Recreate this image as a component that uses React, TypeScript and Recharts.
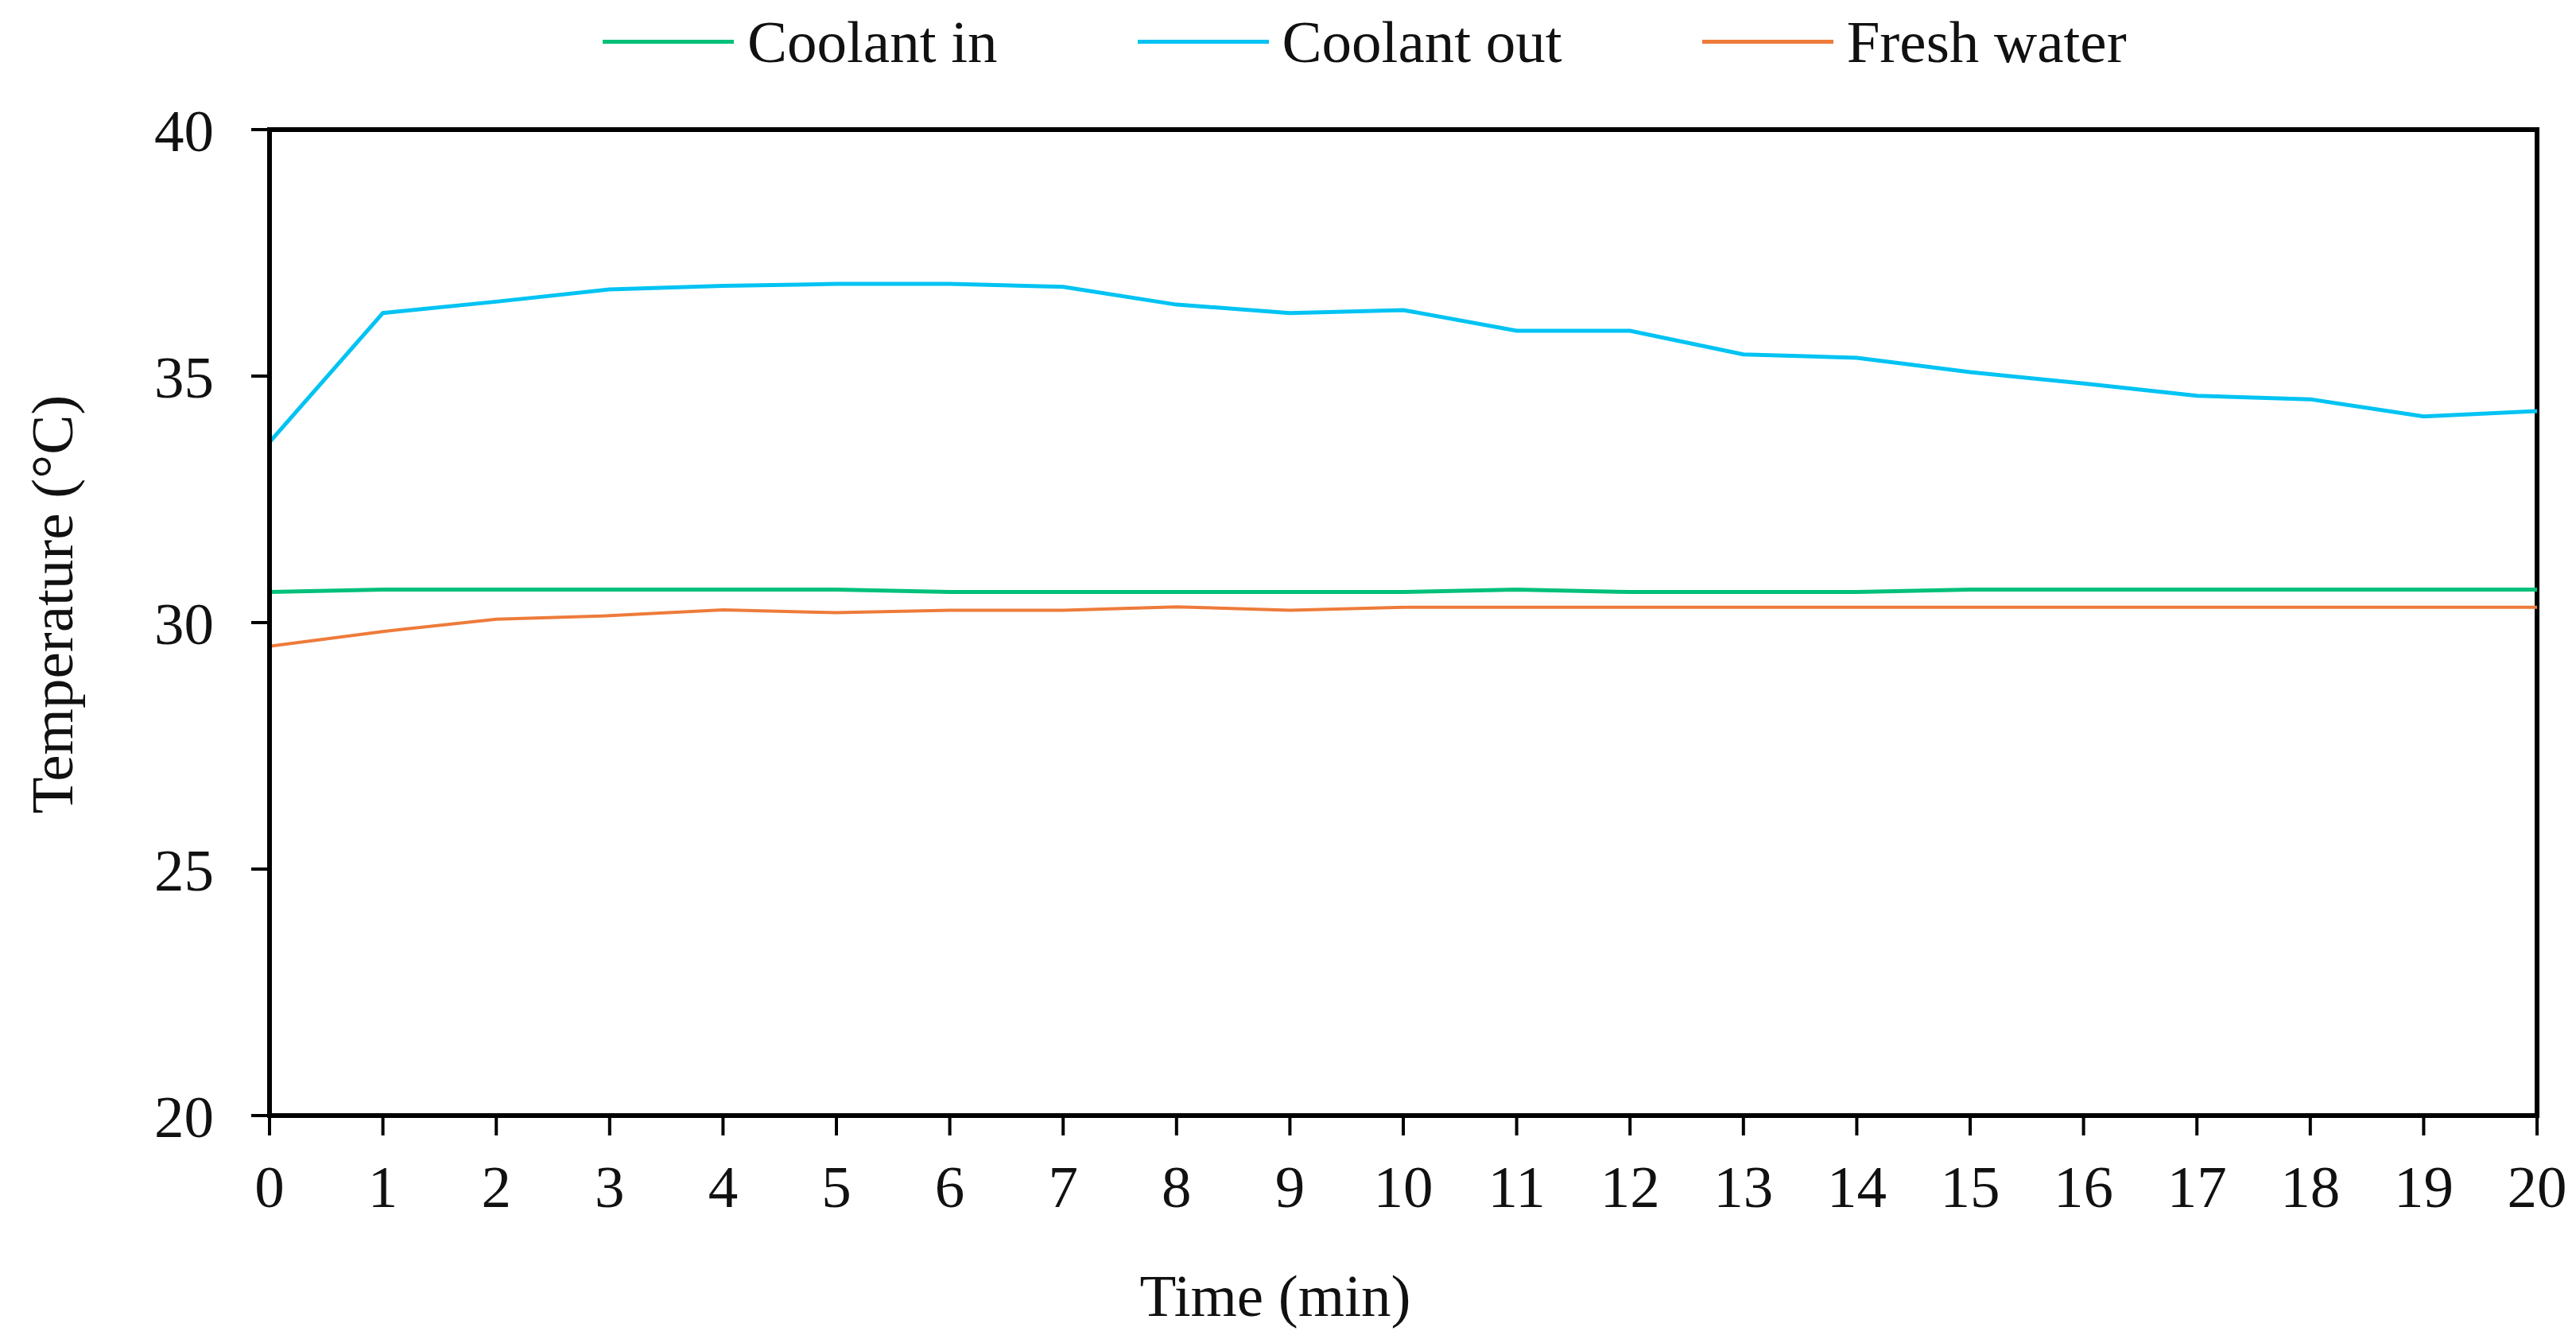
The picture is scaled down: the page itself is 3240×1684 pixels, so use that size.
import React from "react";
import { LineChart, Line, XAxis, YAxis, Legend, ReferenceArea, Label } from "recharts";

const time = [0, 1, 2, 3, 4, 5, 6, 7, 8, 9, 10, 11, 12, 13, 14, 15, 16, 17, 18, 19, 20];
const coolantIn = [30.62, 30.67, 30.67, 30.67, 30.67, 30.67, 30.62, 30.62, 30.62, 30.62, 30.62, 30.67, 30.62, 30.62, 30.62, 30.67, 30.67, 30.67, 30.67, 30.67, 30.67];
const coolantOut = [33.66, 36.28, 36.51, 36.76, 36.83, 36.87, 36.87, 36.81, 36.45, 36.28, 36.34, 35.92, 35.92, 35.44, 35.37, 35.08, 34.85, 34.6, 34.53, 34.18, 34.29];
const freshWater = [29.52, 29.82, 30.07, 30.14, 30.26, 30.2, 30.25, 30.25, 30.32, 30.25, 30.31, 30.31, 30.31, 30.31, 30.31, 30.31, 30.31, 30.31, 30.31, 30.31, 30.31];
const yTicks = [20, 25, 30, 35, 40];

const series = [
  { key: "coolantIn", name: "Coolant in", color: "#00C07A", width: 5 },
  { key: "coolantOut", name: "Coolant out", color: "#00C3F3", width: 5 },
  { key: "freshWater", name: "Fresh water", color: "#EE7B3A", width: 4 },
];

const data = time.map((t, i) => ({
  time: t,
  coolantIn: coolantIn[i],
  coolantOut: coolantOut[i],
  freshWater: freshWater[i],
}));

const font = "Liberation Serif, Times New Roman, serif";

const renderLegend = () => (
  <div style={{ display: "flex", alignItems: "center", gap: 176, fontFamily: font, fontSize: 75, lineHeight: "83px", color: "#111" }}>
    {series.map((s) => (
      <div key={s.key} style={{ display: "flex", alignItems: "center" }}>
        <span style={{ display: "inline-block", width: 165, height: 5, background: s.color, marginRight: 17 }} />
        <span>{s.name}</span>
      </div>
    ))}
  </div>
);

export default function App() {
  return (
    <div style={{ position: "absolute", left: 0, top: 0, background: "#fff" }}>
      <LineChart width={3240} height={1684} data={data} margin={{ top: 163, right: 49, left: 0, bottom: 0 }}>
        <ReferenceArea x1={0} x2={20} y1={20} y2={40} fill="none" stroke="#000" strokeWidth={6} ifOverflow="visible" />
        <XAxis
          type="number"
          dataKey="time"
          domain={[0, 20]}
          ticks={time}
          interval={0}
          height={281}
          tickSize={25}
          tickMargin={37}
          axisLine={{ stroke: "#000", strokeWidth: 6 }}
          tickLine={{ stroke: "#000", strokeWidth: 4 }}
          tick={{ fill: "#111", fontSize: 75, fontFamily: font }}
        >
          <Label
            content={() => (
              <text x={1604} y={1655} textAnchor="middle" fontFamily={font} fontSize={75} fill="#111">
                Time (min)
              </text>
            )}
          />
        </XAxis>
        <YAxis
          type="number"
          domain={[20, 40]}
          ticks={yTicks}
          interval={0}
          width={339}
          tickSize={23}
          tickMargin={47}
          axisLine={{ stroke: "#000", strokeWidth: 6 }}
          tickLine={{ stroke: "#000", strokeWidth: 4 }}
          tick={{ fill: "#111", fontSize: 75, fontFamily: font }}
        >
          <Label
            content={() => (
              <text
                x={65}
                y={760}
                transform="rotate(-90 65 760)"
                textAnchor="middle"
                dominantBaseline="central"
                fontFamily={font}
                fontSize={75}
                fill="#111"
              >
                Temperature (°C)
              </text>
            )}
          />
        </YAxis>
        <Legend
          layout="vertical"
          verticalAlign="middle"
          align="center"
          wrapperStyle={{ top: 11, left: 758, width: 2100, height: 83 }}
          content={renderLegend}
        />
        {series.map((s) => (
          <Line
            key={s.key}
            type="linear"
            dataKey={s.key}
            name={s.name}
            stroke={s.color}
            strokeWidth={s.width}
            dot={false}
            activeDot={false}
            isAnimationActive={false}
          />
        ))}
      </LineChart>
    </div>
  );
}
